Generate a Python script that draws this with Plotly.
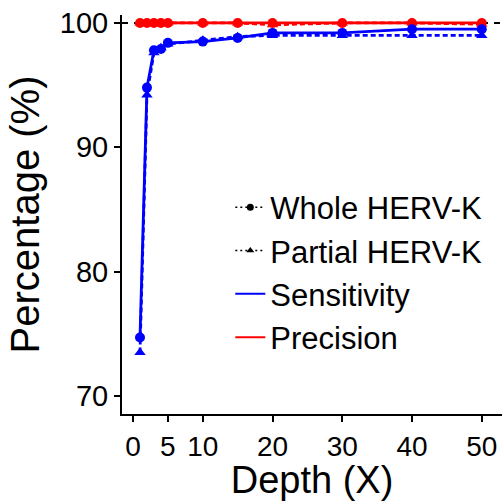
import plotly.graph_objects as go

depth = [1, 2, 3, 4, 5, 10, 15, 20, 30, 40, 50]
sens_whole = [74.7, 94.8, 97.8, 97.9, 98.4, 98.5, 98.8, 99.2, 99.2, 99.5, 99.5]
sens_partial = [73.5, 94.2, 97.6, 98.0, 98.3, 98.6, 98.9, 99.0, 99.0, 99.0, 99.0]
prec_whole = [100, 100, 100, 100, 100, 100, 100, 100, 100, 100, 100]
prec_partial = [100, 100, 100, 100, 100, 100, 100, 99.85, 100, 100, 99.9]

xticks = [0, 5, 10, 20, 30, 40, 50]
yticks = [70, 80, 90, 100]

BLUE = "#0000FF"
RED = "#FF0000"
FONT = "Arial, Liberation Sans, sans-serif"

fig = go.Figure()

# reference line at 100
fig.add_shape(type="line", xref="paper", x0=0, x1=1, yref="y", y0=100, y1=100,
              line=dict(color="black", width=2, dash="6px,6px"), layer="below")

def add(y, color, dash, symbol):
    fig.add_trace(go.Scatter(x=depth, y=y, mode="lines+markers", showlegend=False,
                             line=dict(color=color, width=2.8, dash=dash),
                             marker=dict(color=color, symbol=symbol, size=10)))

add(prec_partial, RED, "5px,3px", "triangle-up")
add(prec_whole, RED, "solid", "circle")
add(sens_partial, BLUE, "5px,3px", "triangle-up")
add(sens_whole, BLUE, "solid", "circle")

# legend-only entries
fig.add_trace(go.Scatter(x=[None], y=[None], mode="lines+markers", name="Whole HERV-K",
                         line=dict(color="black", width=1.5, dash="2px,3px"),
                         marker=dict(color="black", symbol="circle", size=7)))
fig.add_trace(go.Scatter(x=[None], y=[None], mode="lines+markers", name="Partial HERV-K",
                         line=dict(color="black", width=1.5, dash="2px,3px"),
                         marker=dict(color="black", symbol="triangle-up", size=7)))
fig.add_trace(go.Scatter(x=[None], y=[None], mode="lines", name="Sensitivity",
                         line=dict(color=BLUE, width=2)))
fig.add_trace(go.Scatter(x=[None], y=[None], mode="lines", name="Precision",
                         line=dict(color=RED, width=2)))

fig.update_layout(
    width=502, height=501,
    margin=dict(l=122, r=0, t=15, b=87),
    paper_bgcolor="white", plot_bgcolor="white",
    font=dict(family=FONT, color="black"),
    legend=dict(x=0.285, y=0.585, xanchor="left", yanchor="top",
                font=dict(size=31, family=FONT), bgcolor="rgba(0,0,0,0)",
                tracegroupgap=0, itemwidth=30),
    xaxis=dict(range=[-1.58, 52.9], tickvals=xticks, ticktext=[str(t) for t in xticks],
               showgrid=False, zeroline=False, showline=True, linecolor="black", linewidth=2,
               ticks="outside", ticklen=6, tickwidth=1.5, tickcolor="black",
               tickfont=dict(size=28, family=FONT, color="black"),
               title=dict(text="Depth (X)", font=dict(size=38, family=FONT, color="black"), standoff=11)),
    yaxis=dict(range=[68.55, 100.64], tickvals=yticks, ticktext=[str(t) for t in yticks],
               showgrid=False, zeroline=False, showline=True, linecolor="black", linewidth=2,
               ticks="outside", ticklen=6, tickwidth=1.5, tickcolor="black",
               tickfont=dict(size=29, family=FONT, color="black"),
               title=dict(text="Percentage (%)", font=dict(size=40, family=FONT, color="black"), standoff=8)),
)

fig.write_html("out.html")
